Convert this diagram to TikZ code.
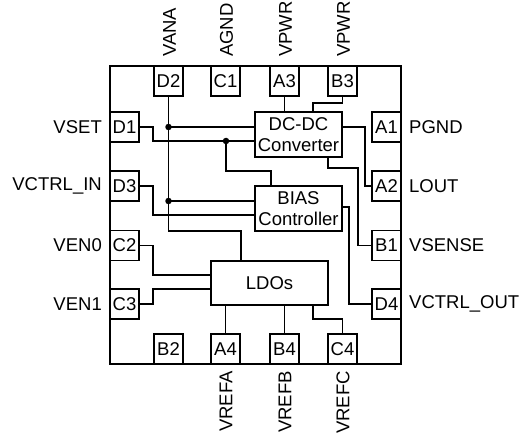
\documentclass[tikz,border=0pt]{standalone}
\usepackage{fontspec}
\setmainfont{Liberation Sans}
\begin{document}
\begin{tikzpicture}[x=1pt,y=-1pt,
  every node/.style={font=\fontsize{18.5}{21}\selectfont, inner sep=0pt},
  pad/.style={draw, line width=1.1pt, minimum width=29pt, minimum height=30pt},
  blk/.style={draw, line width=1.1pt, align=center, font=\fontsize{18.5}{20.5}\selectfont},
  wire/.style={line width=1.1pt},
  dot/.style={circle, fill, minimum size=6.5pt, inner sep=0pt}]
\useasboundingbox (0,0) rectangle (524,438);
\draw[line width=1.1pt] (110,66) rectangle (401,364);
% top pads
\node[pad] (D2) at (168.5,81) {D2};
\node[pad] (C1) at (225.5,81) {C1};
\node[pad] (A3) at (284.5,81) {A3};
\node[pad] (B3) at (342.5,81) {B3};
% left pads
\node[pad] (D1) at (124.5,127) {D1};
\node[pad] (D3) at (124.5,186) {D3};
\node[pad] (C2) at (124.5,245.5) {C2};
\node[pad] (C3) at (124.5,304) {C3};
% right pads
\node[pad] (A1) at (386.5,127) {A1};
\node[pad] (A2) at (386.5,186) {A2};
\node[pad] (B1) at (386.5,245.5) {B1};
\node[pad] (D4) at (386.5,304) {D4};
% bottom pads
\node[pad] (B2) at (168.5,349) {B2};
\node[pad] (A4) at (225.5,349) {A4};
\node[pad] (B4) at (284.5,349) {B4};
\node[pad] (C4) at (342.5,349) {C4};
% blocks
\node[blk, minimum width=87pt, minimum height=45pt] (dc) at (298.5,134.5) {DC-DC\\Converter};
\node[blk, minimum width=87pt, minimum height=45pt] (bias) at (298.5,208.5) {BIAS\\Controller};
\node[blk, minimum width=117pt, minimum height=44pt] (ldo) at (269.5,283) {LDOs};
% labels
\node[anchor=east] (lD1) at (102,127) {VSET};
\node[anchor=east] (lD3) at (102,186) {VCTRL\_IN};
\node[anchor=east] (lC2) at (102,245.5) {VEN0};
\node[anchor=east] (lC3) at (102,304) {VEN1};
\node[anchor=west] (lA1) at (409,127) {PGND};
\node[anchor=west] (lA2) at (409,186) {LOUT};
\node[anchor=west] (lB1) at (409,245.5) {VSENSE};
\node[anchor=west] (lD4) at (409,304) {VCTRL\_OUT};
\node[rotate=90, anchor=west] (lD2) at (169.5,57) {VANA};
\node[rotate=90, anchor=west] (lC1) at (226.5,57) {AGND};
\node[rotate=90, anchor=west] (lA3) at (285.5,57) {VPWR};
\node[rotate=90, anchor=west] (lB3) at (343.5,57) {VPWR};
\node[rotate=90, anchor=east] (lA4) at (226,371) {VREFA};
\node[rotate=90, anchor=east] (lB4) at (285,371) {VREFB};
\node[rotate=90, anchor=east] (lC4) at (343,371) {VREFC};
% junctions
\node[dot] (j1) at (168.5,127) {};
\node[dot] (j2) at (168.5,201) {};
\node[dot] (j3) at (226,141) {};
% wires
\draw[wire] (D2.south) -- (j1.center) -- (j2.center) -- (168.5,231) -| (ldo.north -| 241,0);
\draw[wire] (j1.center) -- (dc.west |- 0,127);
\draw[wire] (j2.center) -- (bias.west |- 0,201);
\draw[wire] (D1.east) -- (153,127) |- (j3.center) -- (dc.west |- 0,141);
\draw[wire] (j3.center) |- (271,171) -- (bias.north -| 271,0);
\draw[wire] (D3.east) -- (153,186) |- (bias.west |- 0,215);
\draw[wire] (A3.south) -- (dc.north -| A3.south);
\draw[wire] (B3.south) |- (313,103) -- (dc.north -| 313,0);
\draw[wire] (dc.east |- 0,127) -| (365,186) -- (A2.west);
\draw[wire] (dc.south -| 328,0) |- (358,168) |- (B1.west);
\draw[wire] (bias.east |- 0,207) -| (349,304) -- (D4.west);
\draw[wire] (C2.east) -- (153,245.5) |- (ldo.west |- 0,275);
\draw[wire] (C3.east) -- (153,304) |- (ldo.west |- 0,289);
\draw[wire] (ldo.south -| A4.north) -- (A4.north);
\draw[wire] (ldo.south -| B4.north) -- (B4.north);
\draw[wire] (ldo.south -| 313,0) |- (342.5,319) -- (C4.north);
\end{tikzpicture}
\end{document}
